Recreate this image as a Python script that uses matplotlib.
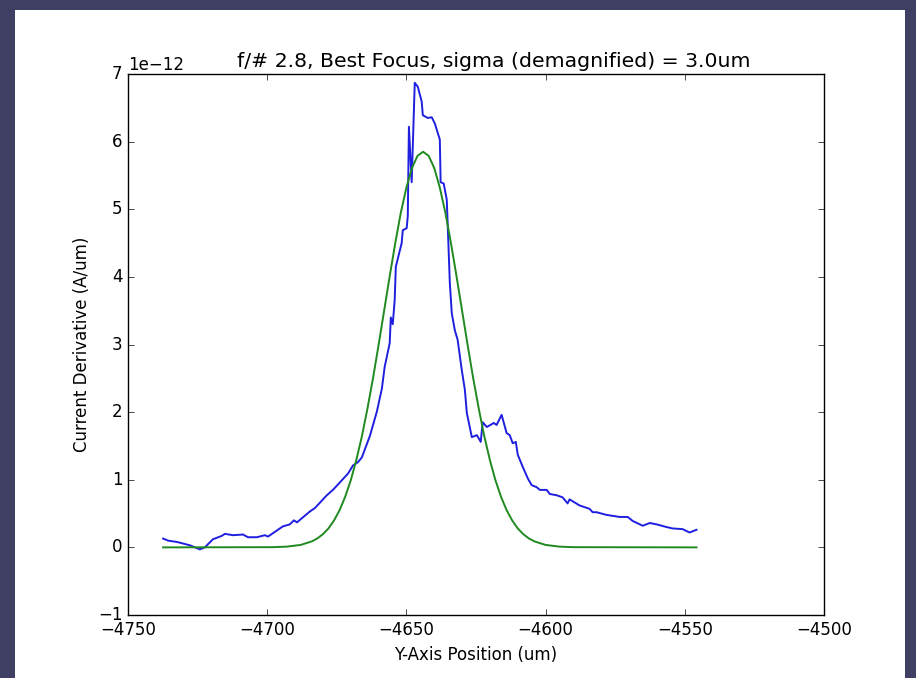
import numpy as np
import matplotlib
matplotlib.use("Agg")
import matplotlib.pyplot as plt
from matplotlib.patches import Rectangle

# valores (corriente en unidades de 1e-12 A/um)
blue_pos = [-4737.4, -4735.6, -4732.4, -4727.7, -4724.2, -4722.4, -4719.5, -4716.3, -4715.2,
            -4712.3, -4708.7, -4706.9, -4703.7, -4700.8, -4699.7, -4696.5, -4694.4, -4691.9,
            -4690.4, -4689.3, -4684.7, -4682.9, -4678.6, -4676.4, -4673.9, -4671.0, -4669.2,
            -4667.4, -4666.0, -4663.1, -4660.6, -4658.8, -4657.8, -4656.0, -4655.6, -4654.9,
            -4654.2, -4653.8, -4651.7, -4651.3, -4649.9, -4649.5, -4649.1, -4648.1, -4647.0,
            -4645.9, -4644.5, -4644.1, -4642.3, -4640.9, -4639.8, -4638.0, -4637.7, -4636.6,
            -4635.5, -4635.1, -4634.4, -4633.7, -4632.6, -4631.6, -4630.1, -4629.0, -4628.3,
            -4628.0, -4626.5, -4624.7, -4623.3, -4622.6, -4621.1, -4618.6, -4617.6, -4615.8,
            -4614.0, -4612.9, -4611.8, -4610.7, -4610.0, -4608.2, -4606.4, -4605.0, -4603.2,
            -4602.1, -4599.6, -4598.5, -4596.0, -4593.9, -4592.1, -4591.4, -4587.8, -4584.2,
            -4583.1, -4581.7, -4578.1, -4573.4, -4570.5, -4568.7, -4565.1, -4562.6, -4560.1,
            -4556.5, -4554.4, -4550.8, -4548.3, -4545.8]
blue_val = [0.13, 0.10, 0.08, 0.03, -0.03, 0.00, 0.12, 0.17, 0.20,
            0.18, 0.19, 0.15, 0.15, 0.18, 0.16, 0.25, 0.31, 0.34,
            0.40, 0.37, 0.53, 0.58, 0.77, 0.85, 0.96, 1.09, 1.21,
            1.26, 1.33, 1.65, 2.01, 2.35, 2.67, 3.02, 3.40, 3.30,
            3.66, 4.15, 4.50, 4.69, 4.72, 4.90, 6.22, 5.40, 6.87,
            6.81, 6.59, 6.39, 6.35, 6.36, 6.27, 6.03, 5.40, 5.38,
            5.14, 4.70, 3.91, 3.46, 3.21, 3.07, 2.62, 2.33, 1.99,
            1.93, 1.63, 1.66, 1.56, 1.85, 1.78, 1.84, 1.81, 1.96,
            1.69, 1.66, 1.54, 1.56, 1.37, 1.19, 1.02, 0.92, 0.89,
            0.85, 0.85, 0.79, 0.77, 0.74, 0.65, 0.71, 0.62, 0.57,
            0.52, 0.52, 0.48, 0.45, 0.45, 0.39, 0.32, 0.36, 0.34,
            0.30, 0.28, 0.27, 0.22, 0.26]

# ajuste gaussiano (curva verde)
green_pos = [-4737.4, -4698, -4693, -4688, -4684, -4682, -4680, -4678, -4676, -4674,
             -4672, -4670, -4668, -4666, -4664, -4662, -4660, -4658, -4656, -4654,
             -4652, -4650, -4648, -4646, -4644, -4642, -4640, -4638, -4636, -4634,
             -4632, -4630, -4628, -4626, -4624, -4622, -4620, -4618, -4616, -4614,
             -4612, -4610, -4608, -4606, -4604, -4600, -4595, -4590, -4545.8]
green_val = [0.0, 0.003, 0.011, 0.036, 0.088, 0.132, 0.195, 0.28, 0.398, 0.55,
             0.747, 0.99, 1.29, 1.64, 2.05, 2.50, 2.99, 3.50, 4.01, 4.50,
             4.95, 5.32, 5.61, 5.79, 5.85, 5.79, 5.61, 5.32, 4.95, 4.50,
             4.01, 3.50, 2.99, 2.50, 2.05, 1.64, 1.29, 0.99, 0.747, 0.55,
             0.398, 0.28, 0.195, 0.132, 0.088, 0.036, 0.011, 0.003, 0.0]

plt.style.use('classic')
fig = plt.figure(figsize=(9.16, 6.78), dpi=100)
fig.patch.set_facecolor('#3f3e63')
# panel blanco de la diapositiva, detras de los ejes
fig.patches.append(Rectangle((15 / 916, 0), 890 / 916, 668 / 678, transform=fig.transFigure,
                             facecolor='white', edgecolor='none', zorder=-10))

ax = fig.add_axes([128 / 916, 1 - 615 / 678, 696 / 916, 541 / 678])
ax.plot(blue_pos, np.array(blue_val) * 1e-12, color='#1f1fe0', linewidth=1.4)
ax.plot(green_pos, np.array(green_val) * 1e-12, color='#208a20', linewidth=1.4)

ax.set_xlim(-4750, -4500)
ax.set_ylim(-1e-12, 7e-12)
ax.set_title('f/# 2.8, Best Focus, sigma (demagnified) = 3.0um', fontsize=14.7, x=0.526)
ax.set_xlabel('Y-Axis Position (um)', fontsize=12)
ax.set_ylabel('Current Derivative (A/um)', fontsize=12)
ax.tick_params(labelsize=12)

plt.savefig('out.png', dpi=100, facecolor=fig.get_facecolor())
